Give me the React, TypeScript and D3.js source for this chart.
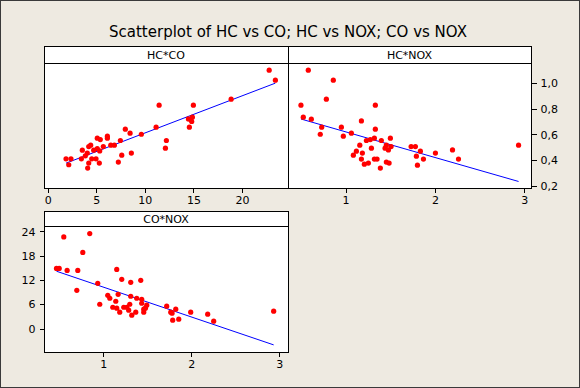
import React, { useRef, useEffect } from 'react';
import * as d3 from 'd3';

// [CO, HC]
const hcVsCo: [number, number][] = [
  [22.86, 1.097], [23.5, 1.019], [18.94, 0.871], [11.52, 0.824], [15.05, 0.824],
  [11.21, 0.653], [14.54, 0.717], [14.78, 0.71], [14.95, 0.731], [14.88, 0.697],
  [14.64, 0.653], [12.27, 0.549], [12.17, 0.489], [9.69, 0.598], [8.04, 0.637],
  [8.53, 0.606], [7.53, 0.549], [7.67, 0.435], [8.66, 0.451], [7.32, 0.381],
  [6.19, 0.583], [6.19, 0.567], [5.15, 0.567], [5.46, 0.556], [5.77, 0.502],
  [6.54, 0.513], [6.91, 0.513], [4.27, 0.502], [4.47, 0.513], [3.61, 0.474],
  [4.78, 0.474], [5.15, 0.486], [5.4, 0.468], [4.12, 0.451], [3.92, 0.43],
  [3.51, 0.406], [4.58, 0.406], [5.02, 0.406], [4.27, 0.373], [4.16, 0.334],
  [5.36, 0.373], [1.93, 0.406], [2.44, 0.406], [2.21, 0.36],
];

// [NOX, HC]
const hcVsNox: [number, number][] = [
  [0.589, 1.097], [0.507, 0.824], [0.533, 0.731], [0.623, 0.715], [0.869, 1.019],
  [0.791, 0.871], [0.739, 0.653], [0.723, 0.598], [0.959, 0.653], [0.981, 0.583],
  [1.071, 0.606], [1.183, 0.702], [1.339, 0.824], [1.339, 0.637], [1.328, 0.567],
  [1.239, 0.549], [1.283, 0.556], [1.406, 0.549], [1.507, 0.567], [1.165, 0.513],
  [1.127, 0.466], [1.093, 0.435], [1.194, 0.451], [1.295, 0.489], [1.183, 0.404],
  [1.216, 0.365], [1.261, 0.373], [1.328, 0.404], [1.358, 0.404], [1.395, 0.334],
  [1.462, 0.513], [1.448, 0.489], [1.485, 0.476], [1.515, 0.502], [1.462, 0.381],
  [1.493, 0.373], [1.739, 0.502], [1.787, 0.502], [1.798, 0.427], [1.81, 0.357],
  [1.843, 0.466], [1.877, 0.404], [2.011, 0.451], [2.202, 0.476], [2.269, 0.404],
  [2.941, 0.513],
];

// [NOX, CO]
const coVsNox: [number, number][] = [
  [0.557, 22.52], [0.852, 23.36], [0.773, 18.69], [0.474, 14.75], [0.505, 14.75],
  [0.595, 14.26], [0.716, 14.26], [0.705, 9.34], [0.943, 11.06], [0.966, 5.9],
  [1.159, 14.51], [1.216, 12.05], [1.318, 11.31], [1.432, 11.8], [1.057, 8.11],
  [1.08, 7.38], [1.175, 8.36], [1.148, 6.64], [1.114, 5.16], [1.159, 4.92],
  [1.193, 3.93], [1.239, 5.16], [1.273, 5.16], [1.307, 5.9], [1.295, 4.43],
  [1.33, 3.2], [1.318, 7.87], [1.386, 7.38], [1.375, 3.93], [1.443, 7.13],
  [1.443, 6.15], [1.466, 4.67], [1.466, 3.93], [1.485, 4.92], [1.5, 5.66],
  [1.727, 5.41], [1.773, 3.93], [1.788, 3.69], [1.795, 1.97], [1.83, 4.67],
  [1.864, 2.21], [2.0, 3.93], [2.193, 3.44], [2.261, 1.72], [2.943, 4.18],
];

// fitted lines [intercept, slope]
const fitHcCo = [0.317, 0.0289];
const fitHcNox = [0.818, -0.2];
const fitCoNox = [17.55, -7.37];

const coTicks = [0, 5, 10, 15, 20];
const noxTicks = [1, 2, 3];
const hcTicks = [0.2, 0.4, 0.6, 0.8, 1.0];
const coAxisTicks = [0, 6, 12, 18, 24];

const W = 580;
const H = 388;
const font = "'DejaVu Sans', Verdana, sans-serif";
const bg = "#eeeae1";

const commaFmt = (d: number) => d3.format(".1f")(d).replace(".", ",");

const App: React.FC = () => {
  const svgRef = useRef<SVGSVGElement>(null);

  useEffect(() => {
    if (!svgRef.current) return;
    const svg = d3.select(svgRef.current);
    svg.selectAll("*").remove();

    svg.append("rect")
      .attr("x", 0.5).attr("y", 0.5)
      .attr("width", W - 1).attr("height", H - 1)
      .attr("fill", bg).attr("stroke", "#3a3a3a");

    svg.append("text")
      .attr("x", 288).attr("y", 37)
      .attr("text-anchor", "middle")
      .style("font-family", font).style("font-size", "15px")
      .attr("fill", "#000")
      .text("Scatterplot of HC vs CO; HC vs NOX; CO vs NOX");

    const hcY = d3.scaleLinear().domain([0.179, 1.153]).range([188, 63]);
    const coY = d3.scaleLinear().domain([-5.9, 25.23]).range([352, 226]);

    const panels = [
      {
        label: "HC*CO", data: hcVsCo, fit: fitHcCo,
        x: d3.scaleLinear().domain([-0.34, 24.8]).range([44, 288]),
        y: hcY, stripTop: 46, xTicks: coTicks, xFmt: (d: number) => `${d}`,
      },
      {
        label: "HC*NOX", data: hcVsNox, fit: fitHcNox,
        x: d3.scaleLinear().domain([0.362, 3.08]).range([288, 531]),
        y: hcY, stripTop: 46, xTicks: noxTicks, xFmt: (d: number) => `${d}`,
      },
      {
        label: "CO*NOX", data: coVsNox, fit: fitCoNox,
        x: d3.scaleLinear().domain([0.332, 3.106]).range([44, 288]),
        y: coY, stripTop: 211, xTicks: noxTicks, xFmt: (d: number) => `${d}`,
      },
    ];

    panels.forEach(p => {
      const [x0, x1] = p.x.range();
      const [yb, yt] = p.y.range();
      const g = svg.append("g");

      // strip
      g.append("rect")
        .attr("x", x0 + 0.5).attr("y", p.stripTop + 0.5)
        .attr("width", x1 - x0).attr("height", yt - p.stripTop)
        .attr("fill", "#fff").attr("stroke", "#000")
        .attr("shape-rendering", "crispEdges");
      g.append("text")
        .attr("x", (x0 + x1) / 2).attr("y", (p.stripTop + yt) / 2 + 4.5)
        .attr("text-anchor", "middle")
        .style("font-family", font).style("font-size", "11px")
        .text(p.label);

      // plot area
      g.append("rect")
        .attr("x", x0 + 0.5).attr("y", yt + 0.5)
        .attr("width", x1 - x0).attr("height", yb - yt)
        .attr("fill", "#fff").attr("stroke", "#000")
        .attr("shape-rendering", "crispEdges");

      // x axis
      const xa = g.append("g")
        .attr("transform", `translate(0.5, ${yb + 0.5})`)
        .call(d3.axisBottom(p.x).tickValues(p.xTicks).tickFormat(p.xFmt as any).tickSize(4).tickPadding(4));
      xa.select(".domain").remove();
      xa.selectAll("line").attr("stroke", "#000").attr("shape-rendering", "crispEdges");
      xa.selectAll("text").style("font-family", font).style("font-size", "11px").attr("fill", "#000");

      // fit line
      const xs = d3.extent(p.data, d => d[0]) as [number, number];
      const line = d3.line<number>()
        .x(d => p.x(d))
        .y(d => p.y(p.fit[0] + p.fit[1] * d));
      g.append("path")
        .datum(xs)
        .attr("fill", "none")
        .attr("stroke", "#0000ff")
        .attr("stroke-width", 1)
        .attr("d", line);

      // points
      g.selectAll("circle.pt")
        .data(p.data)
        .join("circle")
        .attr("class", "pt")
        .attr("cx", d => p.x(d[0]))
        .attr("cy", d => p.y(d[1]))
        .attr("r", 2.6)
        .attr("fill", "#ff0000");
    });

    // HC axis on the right of HC*NOX
    const ya = svg.append("g")
      .attr("transform", `translate(531.5, 0.5)`)
      .call(d3.axisRight(hcY).tickValues(hcTicks).tickFormat(commaFmt as any).tickSize(5).tickPadding(4));
    ya.select(".domain").remove();
    ya.selectAll("line").attr("stroke", "#000").attr("shape-rendering", "crispEdges");
    ya.selectAll("text").style("font-family", font).style("font-size", "11px").attr("fill", "#000");

    // CO axis on the left of CO*NOX
    const ca = svg.append("g")
      .attr("transform", `translate(44.5, 0.5)`)
      .call(d3.axisLeft(coY).tickValues(coAxisTicks).tickSize(5).tickPadding(4));
    ca.select(".domain").remove();
    ca.selectAll("line").attr("stroke", "#000").attr("shape-rendering", "crispEdges");
    ca.selectAll("text").style("font-family", font).style("font-size", "11px").attr("fill", "#000");
  }, []);

  return (
    <svg ref={svgRef} width={W} height={H}
      style={{ position: "absolute", left: 0, top: 0, display: "block" }} />
  );
};

export default App;
